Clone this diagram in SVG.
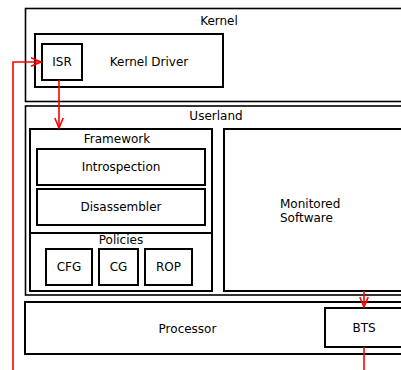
<svg xmlns="http://www.w3.org/2000/svg" width="401" height="370" viewBox="0 0 401 370">
<style>
.box{fill:#fff;stroke:#000;stroke-width:2}
.big{fill:#fff;stroke:#000;stroke-width:1.6}
text{font-family:"DejaVu Sans",sans-serif;font-size:12px;fill:#000}
.c{text-anchor:middle}
.red{fill:none;stroke:#f00;stroke-width:1.6}
</style>
<defs>
<marker id="ah" markerUnits="userSpaceOnUse" markerWidth="14" markerHeight="12" refX="11" refY="5" orient="auto" viewBox="0 0 14 10">
<path d="M1,0.8 L11,5 L1,9.2" fill="none" stroke="#f00" stroke-width="1.6"/>
</marker>
</defs>
<g id="kernel">
<rect class="big" x="25.5" y="8.5" width="390" height="93"/>
<text class="c" x="219" y="25">Kernel</text>
</g>
<g id="kernel-driver">
<rect class="box" x="35" y="34" width="188" height="53"/>
<text class="c" x="149" y="66">Kernel Driver</text>
</g>
<g id="isr">
<rect class="box" x="42" y="44" width="40" height="36"/>
<text class="c" x="62" y="66">ISR</text>
</g>
<g id="userland">
<rect class="big" x="25.5" y="106" width="390" height="189"/>
<text class="c" x="216" y="120">Userland</text>
</g>
<g id="framework">
<rect class="box" x="30" y="129" width="182" height="162"/>
<text class="c" x="117" y="143">Framework</text>
</g>
<g id="introspection">
<rect class="box" x="37" y="149" width="168" height="36"/>
<text class="c" x="121" y="171">Introspection</text>
</g>
<g id="disassembler">
<rect class="box" x="37" y="189" width="168" height="36"/>
<text class="c" x="121" y="211">Disassembler</text>
</g>
<g id="policies">
<rect class="box" x="30" y="233" width="182" height="58"/>
<text class="c" x="121" y="244">Policies</text>
</g>
<g id="cfg">
<rect class="box" x="46" y="249" width="46" height="36"/>
<text class="c" x="69" y="271">CFG</text>
</g>
<g id="cg">
<rect class="box" x="99" y="249" width="39" height="36"/>
<text class="c" x="118.5" y="271">CG</text>
</g>
<g id="rop">
<rect class="box" x="145" y="249" width="47" height="36"/>
<text class="c" x="168.5" y="271">ROP</text>
</g>
<g id="monitored-software">
<rect class="box" x="224" y="129" width="190" height="162"/>
<text x="280" y="208">Monitored</text>
<text x="280" y="222">Software</text>
</g>
<g id="processor">
<rect class="box" x="25" y="302" width="390" height="52"/>
<text class="c" x="187.5" y="333">Processor</text>
</g>
<g id="bts">
<rect class="box" x="325" y="308" width="90" height="39"/>
<text class="c" x="364" y="332">BTS</text>
</g>
<g id="connectors">
<path class="red" d="M13,370 V62 H41" marker-end="url(#ah)"/>
<path class="red" d="M59,80 V128" marker-end="url(#ah)"/>
<path class="red" d="M364,291 V307" marker-end="url(#ah)"/>
<path class="red" d="M364,347 V370"/>
</g>
</svg>
